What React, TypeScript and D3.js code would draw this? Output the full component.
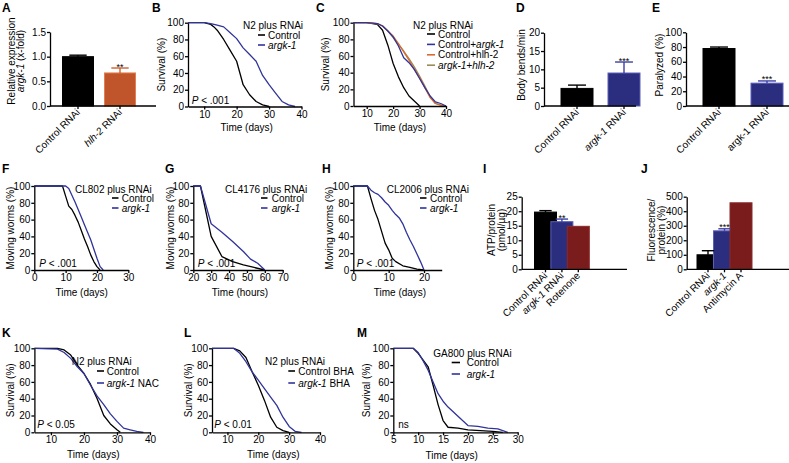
import React, { useEffect, useRef } from 'react';
import * as d3 from 'd3';

type Pt = [number, number];

// ---- values ----
const aCategories = ['Control RNAi', '_hlh-2_ RNAi'];
const aValues = [1.0, 0.67];
const aErrors = [0.03, 0.1];

const bControl: Pt[] = [[5, 100], [10, 100], [12, 98], [13, 95], [14, 91], [16, 80], [18, 67], [20, 54], [21, 40], [22, 26], [24, 14], [26, 6], [28, 2], [30, 0]];
const bArgk: Pt[] = [[5, 100], [10, 100], [12, 99], [14, 97], [16, 95], [18, 88], [20, 81], [22, 70], [24, 62], [26, 54], [28, 37], [30, 26], [32, 16], [34, 6], [36, 2], [38, 0]];

const cControl: Pt[] = [[5, 100], [10, 100], [14, 98], [16, 91], [18, 73], [20, 51], [22, 35], [24, 22], [26, 12], [28, 6], [30, 0]];
const cArgk: Pt[] = [[5, 100], [10, 100], [14, 99], [16, 96], [18, 90], [20, 83], [22, 72], [24, 58], [26, 52], [28, 44], [30, 33], [32, 22], [34, 12], [36, 5], [38, 3], [40, 0]];
const cHlh: Pt[] = [[5, 100], [10, 100], [14, 99], [16, 96], [18, 90], [20, 84], [22, 75], [24, 65], [26, 55], [28, 44], [30, 34], [32, 22], [34, 10], [36, 3], [38, 1], [40, 0]];
const cBoth: Pt[] = [[5, 100], [10, 100], [14, 99], [16, 96], [18, 90], [20, 82], [22, 74], [24, 66], [26, 57], [28, 47], [30, 36], [32, 24], [34, 11], [36, 3], [38, 1], [40, 0]];

const dCategories = ['Control RNAi', '_argk-1_ RNAi'];
const dValues = [4.8, 9.0];
const dErrors = [0.9, 3.0];

const eCategories = ['Control RNAi', 'argk-1 RNAi'];
const eValues = [78, 31];
const eErrors = [2, 3];

const fControl: Pt[] = [[0, 100], [9, 100], [10, 88], [11, 76], [12, 72], [13, 65], [14, 57], [15, 47], [16, 37], [17, 28], [18, 18], [19, 10], [20, 4], [21, 0]];
const fArgk: Pt[] = [[0, 100], [10, 100], [11, 97], [12, 89], [13, 81], [14, 72], [15, 63], [16, 54], [17, 45], [18, 36], [19, 25], [20, 14], [21, 4], [22, 0]];

const gControl: Pt[] = [[20, 100], [24, 100], [30, 40], [36, 16], [42, 10], [48, 6], [54, 3], [60, 0]];
const gArgk: Pt[] = [[20, 100], [24, 100], [30, 55], [36, 45], [42, 34], [48, 22], [52, 13], [56, 8], [60, 0]];

const hControl: Pt[] = [[0, 100], [4, 100], [5, 85], [6, 71], [7, 60], [8, 46], [9, 32], [10, 24], [11, 14], [12, 10], [14, 5], [16, 3], [18, 1], [20, 0]];
const hArgk: Pt[] = [[0, 100], [4, 100], [5, 95], [6, 92], [7, 90], [8, 86], [9, 81], [10, 77], [11, 71], [12, 66], [13, 62], [14, 55], [15, 45], [16, 36], [17, 28], [18, 19], [19, 10], [20, 0]];

const iCategories = ['Control RNAi', '_argk-1_ RNAi', 'Rotenone'];
const iValues = [19.7, 16.4, 14.8];
const iErrors = [0.5, 0.9, 0];

const jCategories = ['Control RNAi', '_argk-1_', 'Antimycin A'];
const jValues = [100, 265, 458];
const jErrors = [28, 14, 0];

const kControl: Pt[] = [[5, 100], [12, 100], [14, 98], [16, 92], [18, 80], [20, 70], [22, 57], [24, 40], [26, 20], [28, 10], [30, 3], [31, 0]];
const kArgk: Pt[] = [[5, 100], [12, 99], [14, 95], [16, 88], [18, 78], [20, 70], [22, 56], [24, 43], [26, 33], [28, 22], [30, 13], [32, 5], [34, 3], [36, 1], [38, 0]];

const lControl: Pt[] = [[5, 100], [12, 100], [14, 97], [16, 89], [18, 72], [20, 56], [22, 38], [24, 18], [26, 6], [28, 2], [30, 0]];
const lArgk: Pt[] = [[5, 100], [12, 100], [14, 94], [16, 84], [18, 72], [20, 62], [22, 52], [24, 42], [26, 32], [28, 18], [30, 7], [32, 1], [34, 0]];

const mControl: Pt[] = [[5, 100], [9, 100], [10, 94], [11, 86], [12, 78], [13, 56], [14, 33], [15, 14], [16, 6], [18, 5], [20, 3], [25, 1], [27, 0]];
const mArgk: Pt[] = [[5, 100], [9, 100], [10, 95], [11, 85], [12, 74], [13, 60], [14, 46], [15, 37], [16, 30], [18, 19], [20, 8], [22, 7], [24, 5], [26, 4], [28, 0]];

const survivalTicks = [0, 20, 40, 60, 80, 100];

const FONT = 'Arial, "Liberation Sans", Helvetica, sans-serif';
const BLACK = '#000000';
const BLUE = '#30349a';
const ORANGE = '#dc6a2c';
const OLIVE = '#9c8b58';
const BAR_BLUE = '#2b2e7e';
const BAR_RED = '#7b1c1c';

// text with _italic_ parts
function rich(text: any, label: string) {
  label.split('_').forEach((part, i) => {
    if (part) text.append('tspan').attr('font-style', i % 2 ? 'italic' : null).text(part);
  });
  return text;
}

function addText(g: any, x: number, y: number, label: string, opts: any = {}) {
  const t = g.append('text')
    .attr('x', x).attr('y', y)
    .attr('font-family', FONT)
    .attr('font-size', opts.size || 10)
    .attr('font-weight', opts.bold ? 'bold' : null)
    .attr('text-anchor', opts.anchor || 'start')
    .attr('fill', '#000');
  return rich(t, label);
}

function addRotated(g: any, x: number, y: number, label: string, angle: number, anchor: string) {
  const t = g.append('text')
    .attr('transform', `translate(${x},${y}) rotate(${angle})`)
    .attr('font-family', FONT)
    .attr('font-size', 10)
    .attr('text-anchor', anchor)
    .attr('fill', '#000');
  return rich(t, label);
}

function styleAxis(g: any) {
  g.attr('font-family', FONT).attr('font-size', 10);
  g.select('.domain').attr('stroke', '#000').attr('stroke-width', 1.3);
  g.selectAll('.tick line').attr('stroke', '#000').attr('stroke-width', 1.3);
  g.selectAll('.tick text').attr('fill', '#000');
}

function survival(svg: any, p: any) {
  const g = svg.append('g');
  const x = d3.scaleLinear().domain(p.xDomain).range(p.xRange);
  const y = d3.scaleLinear().domain([0, 100]).range(p.yRange);
  const line = d3.line<Pt>().x(d => x(d[0])).y(d => y(d[1]));

  p.series.forEach((s: any) => {
    g.append('path').datum(s.data)
      .attr('d', line)
      .attr('fill', 'none')
      .attr('stroke', s.color)
      .attr('stroke-width', 1.3)
      .attr('stroke-linejoin', 'round');
  });

  g.append('g').attr('transform', `translate(0,${p.yRange[0]})`)
    .call(d3.axisBottom(x).tickValues(p.xTicks).tickSizeInner(3).tickSizeOuter(0).tickPadding(1))
    .call(styleAxis);
  g.append('g').attr('transform', `translate(${p.xRange[0]},0)`)
    .call(d3.axisLeft(y).tickValues(survivalTicks).tickSizeInner(3).tickSizeOuter(0).tickPadding(1))
    .call(styleAxis);

  const lg = p.legend;
  addText(g, lg.titleX, lg.titleY, lg.title);
  p.series.slice().sort((a: any, b: any) => a.order - b.order).forEach((s: any, i: number) => {
    const by = lg.y0 + i * lg.dy;
    g.append('line')
      .attr('x1', lg.lx0).attr('x2', lg.lx1)
      .attr('y1', by - 3.5).attr('y2', by - 3.5)
      .attr('stroke', s.color).attr('stroke-width', 1.6);
    addText(g, lg.textX, by, s.label);
  });

  if (p.pText) addText(g, p.pText[0], p.pText[1], p.pText[2]);
  addText(g, p.xLabel[0], p.xLabel[1], p.xLabel[2], { anchor: 'middle' });
  addRotated(g, p.yLabel[0], (p.yRange[0] + p.yRange[1]) / 2, p.yLabel[1], -90, 'middle');
  addText(g, p.letter[0], p.letter[1], p.letter[2], { bold: true, size: 12 });
}

function barPanel(svg: any, p: any) {
  const g = svg.append('g');
  const x = d3.scalePoint().domain(p.cats).range(p.centers);
  const y = d3.scaleLinear().domain(p.yDomain).range(p.yRange);
  const w = p.width;
  const y0 = y(0);

  g.selectAll('rect.bar').data(p.cats).join('rect')
    .attr('class', 'bar')
    .attr('x', (c: string) => (x(c) as number) - w / 2)
    .attr('y', (c: string, i: number) => y(p.values[i]))
    .attr('width', w)
    .attr('height', (c: string, i: number) => y0 - y(p.values[i]))
    .attr('fill', (c: string, i: number) => p.fills[i])
    .attr('stroke', (c: string, i: number) => p.strokes[i])
    .attr('stroke-width', 1);

  p.cats.forEach((c: string, i: number) => {
    const cx = x(c) as number;
    const e = p.errors[i];
    if (e > 0) {
      const top = y(p.values[i] + e);
      g.append('line').attr('x1', cx).attr('x2', cx).attr('y1', y(p.values[i])).attr('y2', top)
        .attr('stroke', p.errColors[i]).attr('stroke-width', 1.4);
      g.append('line').attr('x1', cx - w * 0.28).attr('x2', cx + w * 0.28).attr('y1', top).attr('y2', top)
        .attr('stroke', p.errColors[i]).attr('stroke-width', 1.4);
      if (p.stars[i]) {
        addText(g, cx, top + 1.5, p.stars[i], { anchor: 'middle', size: 9 });
      }
    }
    g.append('line').attr('x1', cx).attr('x2', cx).attr('y1', y0).attr('y2', y0 + 3)
      .attr('stroke', '#000').attr('stroke-width', 1.3);
    addRotated(g, cx + 2.5, y0 + 7, c, -45, 'end');
  });

  g.append('line').attr('x1', p.yAxisX).attr('x2', p.axisEnd).attr('y1', y0).attr('y2', y0)
    .attr('stroke', '#000').attr('stroke-width', 1.3);
  g.append('g').attr('transform', `translate(${p.yAxisX},0)`)
    .call(d3.axisLeft(y).tickValues(p.yTicks).tickFormat(d3.format(p.format)).tickSizeInner(3).tickSizeOuter(0).tickPadding(1))
    .call(styleAxis);

  p.yLabels.forEach((l: any) => addRotated(g, l[0], p.yLabelY, l[1], -90, 'middle'));
  addText(g, p.letter[0], p.letter[1], p.letter[2], { bold: true, size: 12 });
}

const App = () => {
  const ref = useRef<SVGSVGElement>(null);

  useEffect(() => {
    const svg = d3.select(ref.current);
    svg.selectAll('*').remove();

    // top row
    barPanel(svg, {
      cats: aCategories, values: aValues, errors: aErrors,
      fills: [BLACK, '#c0542b'], strokes: [BLACK, '#e0804f'], errColors: [BLACK, '#d0602f'],
      stars: ['', '**'], yDomain: [0, 1.5], yTicks: [0, 0.5, 1, 1.5], format: '.1f',
      yRange: [106, 32], yAxisX: 50, axisEnd: 156, centers: [78, 120], width: 31,
      yLabels: [[14.5, 'Relative expression'], [23.5, '_argk-1_ (x-fold)']], yLabelY: 61,
      letter: [2, 12, 'A'],
    });
    survival(svg, {
      xDomain: [5, 40], xRange: [188, 301.5], xTicks: [10, 20, 30, 40], yRange: [106.5, 22.7],
      series: [
        { data: bControl, color: BLACK, label: 'Control', order: 0 },
        { data: bArgk, color: BLUE, label: '_argk-1_', order: 1 },
      ],
      legend: { title: 'N2 plus RNAi', titleX: 243, titleY: 29, lx0: 258, lx1: 265, textX: 268, y0: 38.5, dy: 10 },
      pText: [191.7, 103.5, '_P_ < .001'], xLabel: [246.7, 131, 'Time (days)'],
      yLabel: [165, 'Survival (%)'], letter: [152, 12, 'B'],
    });
    survival(svg, {
      xDomain: [5, 40], xRange: [353.5, 446], xTicks: [10, 20, 30, 40], yRange: [106, 22.7],
      series: [
        { data: cControl, color: BLACK, label: 'Control', order: 0 },
        { data: cBoth, color: OLIVE, label: '_argk-1+hlh-2_', order: 3 },
        { data: cHlh, color: ORANGE, label: 'Control+hlh-2', order: 2 },
        { data: cArgk, color: BLUE, label: 'Control+_argk-1_', order: 1 },
      ],
      legend: { title: 'N2 plus RNAi', titleX: 413, titleY: 29, lx0: 427, lx1: 435, textX: 438, y0: 37.5, dy: 10.4 },
      xLabel: [400, 131, 'Time (days)'], yLabel: [328.5, 'Survival (%)'], letter: [316, 12, 'C'],
    });
    barPanel(svg, {
      cats: dCategories, values: dValues, errors: dErrors,
      fills: [BLACK, BAR_BLUE], strokes: [BLACK, '#5b5fb8'], errColors: [BLACK, '#3c40a4'],
      stars: ['', '***'], yDomain: [0, 20], yTicks: [0, 5, 10, 15, 20], format: 'd',
      yRange: [106, 32.7], yAxisX: 544, axisEnd: 636, centers: [577, 624], width: 32,
      yLabels: [[524.5, 'Body bends/min']], yLabelY: 65, letter: [516, 12, 'D'],
    });
    barPanel(svg, {
      cats: eCategories, values: eValues, errors: eErrors,
      fills: [BLACK, BAR_BLUE], strokes: [BLACK, '#5b5fb8'], errColors: [BLACK, '#3c40a4'],
      stars: ['', '***'], yDomain: [0, 100], yTicks: [0, 20, 40, 60, 80, 100], format: 'd',
      yRange: [106, 32.3], yAxisX: 686, axisEnd: 789, centers: [719, 767], width: 32,
      yLabels: [[662.5, 'Paralyzed (%)']], yLabelY: 65, letter: [652, 12, 'E'],
    });

    // middle row
    survival(svg, {
      xDomain: [0, 30], xRange: [34.3, 128.3], xTicks: [0, 10, 20, 30], yRange: [270, 186],
      series: [
        { data: fControl, color: BLACK, label: 'Control', order: 0 },
        { data: fArgk, color: BLUE, label: '_argk-1_', order: 1 },
      ],
      legend: { title: 'CL802 plus RNAi', titleX: 75, titleY: 193, lx0: 112, lx1: 118.5, textX: 121.7, y0: 201.5, dy: 10 },
      pText: [39.3, 267, '_P_ < .001'], xLabel: [81.7, 296, 'Time (days)'],
      yLabel: [13.5, 'Moving worms (%)'], letter: [2, 173, 'F'],
    });
    survival(svg, {
      xDomain: [20, 70], xRange: [193.3, 282.7], xTicks: [20, 30, 40, 50, 60, 70], yRange: [270, 186],
      series: [
        { data: gControl, color: BLACK, label: 'Control', order: 0 },
        { data: gArgk, color: BLUE, label: '_argk-1_', order: 1 },
      ],
      legend: { title: 'CL4176 plus RNAi', titleX: 225, titleY: 193, lx0: 261, lx1: 267.5, textX: 271.7, y0: 201.5, dy: 10 },
      pText: [197.7, 267, '_P_ < .001'], xLabel: [240, 296, 'Time (hours)'],
      yLabel: [173.5, 'Moving worms (%)'], letter: [165, 173, 'G'],
    });
    survival(svg, {
      xDomain: [0, 25], xRange: [353.3, 441.7], xTicks: [0, 10, 20], yRange: [270, 186],
      series: [
        { data: hControl, color: BLACK, label: 'Control', order: 0 },
        { data: hArgk, color: BLUE, label: '_argk-1_', order: 1 },
      ],
      legend: { title: 'CL2006 plus RNAi', titleX: 386.7, titleY: 193, lx0: 420, lx1: 426.5, textX: 430, y0: 201.5, dy: 10 },
      pText: [356.7, 267, '_P_ < .001'], xLabel: [400, 296, 'Time (days)'],
      yLabel: [332.5, 'Moving worms (%)'], letter: [322, 173, 'H'],
    });
    barPanel(svg, {
      cats: iCategories, values: iValues, errors: iErrors,
      fills: [BLACK, BAR_BLUE, BAR_RED], strokes: [BLACK, '#5b5fb8', '#8a2a2a'], errColors: [BLACK, '#3c40a4', BAR_RED],
      stars: ['', '**', ''], yDomain: [0, 25], yTicks: [0, 5, 10, 15, 20, 25], format: 'd',
      yRange: [269.3, 196.7], yAxisX: 521.7, axisEnd: 627, centers: [545.5, 578.3, 611.2], width: 22,
      yLabels: [[495, 'ATP/protein'], [505, '(pmol/µg)']], yLabelY: 230, letter: [483, 173, 'I'],
    });
    barPanel(svg, {
      cats: jCategories, values: jValues, errors: jErrors,
      fills: [BLACK, BAR_BLUE, BAR_RED], strokes: [BLACK, '#5b5fb8', '#8a2a2a'], errColors: [BLACK, '#3c40a4', BAR_RED],
      stars: ['', '***', ''], yDomain: [0, 500], yTicks: [0, 100, 200, 300, 400, 500], format: 'd',
      yRange: [269.3, 196.7], yAxisX: 686.7, axisEnd: 789, centers: [708, 741, 773.5], width: 22,
      yLabels: [[654.8, 'Fluorescence/'], [664.5, 'protein (%)']], yLabelY: 230, letter: [641, 173, 'J'],
    });

    // bottom row
    survival(svg, {
      xDomain: [5, 40], xRange: [34.4, 150], xTicks: [10, 20, 30, 40], yRange: [432.3, 348.3],
      series: [
        { data: kControl, color: BLACK, label: 'Control', order: 0 },
        { data: kArgk, color: BLUE, label: '_argk-1_ NAC', order: 1 },
      ],
      legend: { title: 'N2 plus RNAi', titleX: 71.7, titleY: 365, lx0: 97, lx1: 104, textX: 106.7, y0: 374.5, dy: 12 },
      pText: [37.3, 428, '_P_ < 0.05'], xLabel: [93.3, 458, 'Time (days)'],
      yLabel: [13.5, 'Survival (%)'], letter: [2, 337, 'K'],
    });
    survival(svg, {
      xDomain: [5, 40], xRange: [212, 320], xTicks: [10, 20, 30, 40], yRange: [432.3, 348.3],
      series: [
        { data: lControl, color: BLACK, label: 'Control BHA', order: 0 },
        { data: lArgk, color: BLUE, label: '_argk-1_ BHA', order: 1 },
      ],
      legend: { title: 'N2 plus RNAi', titleX: 265, titleY: 365, lx0: 288.3, lx1: 295, textX: 298.3, y0: 374.5, dy: 12 },
      pText: [214.3, 428, '_P_ < 0.01'], xLabel: [273.3, 458, 'Time (days)'],
      yLabel: [191.5, 'Survival (%)'], letter: [184, 337, 'L'],
    });
    survival(svg, {
      xDomain: [5, 30], xRange: [393.3, 517.7], xTicks: [5, 10, 15, 20, 25, 30], yRange: [432.3, 348.3],
      series: [
        { data: mControl, color: BLACK, label: 'Control', order: 0 },
        { data: mArgk, color: BLUE, label: '_argk-1_', order: 1 },
      ],
      legend: { title: 'GA800 plus RNAi', titleX: 433.3, titleY: 357, lx0: 451.7, lx1: 460, textX: 466.7, y0: 366, dy: 11.5 },
      pText: [398.3, 428, 'ns'], xLabel: [451.7, 459, 'Time (days)'],
      yLabel: [370, 'Survival (%)'], letter: [357, 337, 'M'],
    });
  }, []);

  return (
    <svg
      ref={ref}
      width={789}
      height={463}
      style={{ position: 'absolute', left: 0, top: 0, background: '#fff' }}
    />
  );
};

export default App;
